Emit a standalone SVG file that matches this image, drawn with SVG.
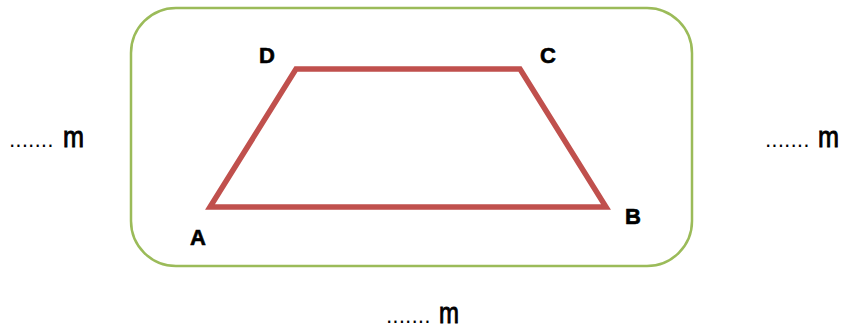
<svg xmlns="http://www.w3.org/2000/svg" width="845" height="329" viewBox="0 0 845 329">
<style>
.lbl{font-family:"Liberation Sans",Arial,sans-serif;font-weight:bold;font-size:22px;fill:#000;stroke:#000;stroke-width:0.6}
.dot{font-family:"DejaVu Sans","Liberation Sans",sans-serif;font-size:20px;fill:#000}
.m{font-family:"Liberation Sans",Arial,sans-serif;font-size:29px;fill:#000;stroke:#000;stroke-width:0.9}
</style>
<rect width="845" height="329" fill="#fff"/>
<g id="frame"><rect x="131" y="8" width="561" height="258" rx="45" ry="45" fill="#fff" stroke="#9bbb59" stroke-width="2.5"/></g>
<g id="trapezoid"><polygon points="210,207 296,69 520,69 606,207" fill="none" stroke="#c0504d" stroke-width="5.5" stroke-linejoin="miter"/></g>
<g id="labels">
<text class="lbl" x="267" y="63" text-anchor="middle">D</text>
<text class="lbl" x="548" y="63" text-anchor="middle">C</text>
<text class="lbl" x="633" y="224" text-anchor="middle">B</text>
<text class="lbl" x="198" y="245" text-anchor="middle">A</text>
</g>
<g id="dims">
<text x="9" y="147"><tspan class="dot">.......</tspan><tspan class="m" x="63" textLength="21" lengthAdjust="spacingAndGlyphs">m</tspan></text>
<text x="765" y="147"><tspan class="dot">.......</tspan><tspan class="m" x="818" textLength="21" lengthAdjust="spacingAndGlyphs">m</tspan></text>
<text x="386" y="323"><tspan class="dot">.......</tspan><tspan class="m" x="439" textLength="20" lengthAdjust="spacingAndGlyphs">m</tspan></text>
</g>
</svg>
